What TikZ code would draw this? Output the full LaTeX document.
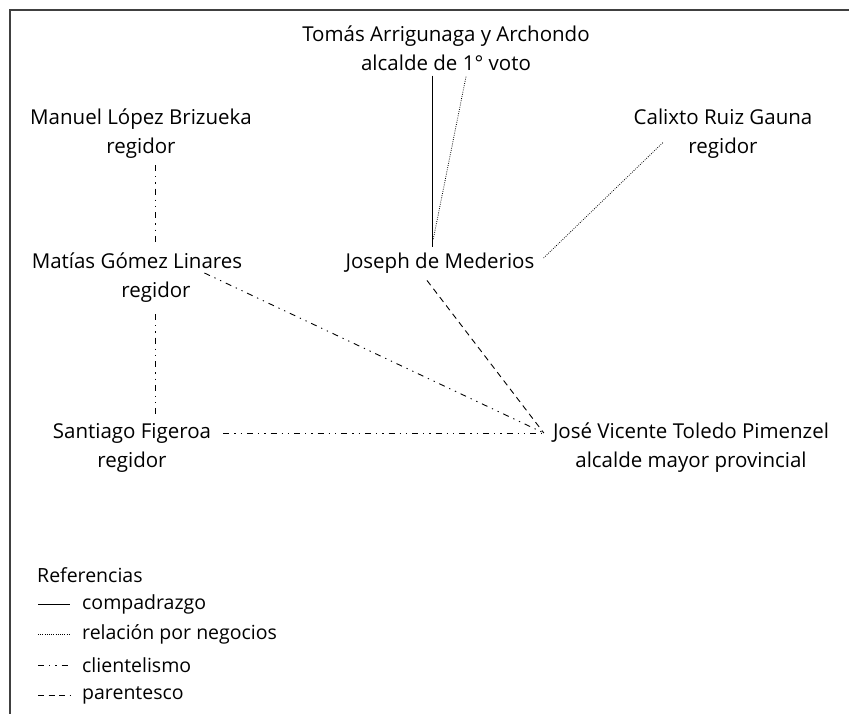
\documentclass[tikz,border=0pt]{standalone}
\usepackage{fontspec}
\setmainfont{Open Sans}
\usetikzlibrary{positioning}

\tikzset{
  persona/.style={align=center, inner sep=0pt, font=\fontsize{20.5}{29}\selectfont},
  leyenda/.style={inner sep=0pt, font=\fontsize{19.5}{29}\selectfont},
  compadrazgo/.style={line width=0.9pt},
  negocios/.style={line width=0.8pt, dash pattern=on 0.8pt off 1.4pt},
  clientelismo/.style={line width=0.9pt, dash pattern=on 6pt off 5pt on 1.3pt off 5pt on 1.3pt off 5pt},
  parentesco/.style={line width=0.9pt, dash pattern=on 6pt off 4.5pt},
}

\begin{document}
\begin{tikzpicture}[x=1pt, y=1pt]
  \useasboundingbox (0,0) rectangle (849,-714);

  % Frame
  \draw[line width=1.5pt, black!75] (849,-10) -- (10,-10) -- (10,-714);

  % People
  \node[persona] (tomas) at (446,-48) {Tomás Arrigunaga y Archondo\\alcalde de 1° voto};
  \node[persona] (manuel) at (141,-134) {Manuel López Brizueka\\regidor};
  \node[persona] (calixto) at (723,-134) {Calixto Ruiz Gauna\\regidor};
  \node[persona] (matias) at (137,-278) {Matías Gómez Linares\\\hspace*{38pt}regidor};
  \node[persona] (joseph) at (440,-263) {Joseph de Mederios};
  \node[persona] (santiago) at (132,-448) {Santiago Figeroa\\regidor};
  \node[persona] (jose) at (691,-448) {José Vicente Toledo Pimenzel\\alcalde mayor provincial};
  \coordinate (joseIn) at ([xshift=-9pt,yshift=15pt]jose.west);

  % Relations
  \draw[compadrazgo] ([xshift=-14pt,yshift=-5pt]tomas.south) -- ([xshift=-8pt,yshift=6pt]joseph.north);
  \draw[negocios] ([xshift=20pt,yshift=-6pt]tomas.south) -- ([xshift=-7pt,yshift=12pt]joseph.north);
  \draw[negocios] ([xshift=9pt,yshift=5pt]joseph.east) -- ([xshift=30pt,yshift=-8pt]calixto.west);
  \draw[clientelismo] ([xshift=14pt,yshift=-6pt]manuel.south) -- ([xshift=18pt,yshift=9pt]matias.north);
  \draw[clientelismo] ([xshift=18pt,yshift=-11pt]matias.south) -- ([xshift=23pt,yshift=9pt]santiago.north);
  \draw[clientelismo] ([xshift=-38pt,yshift=5pt]matias.east) -- (joseIn);
  \draw[clientelismo] ([xshift=12pt,yshift=15pt]santiago.east) -- (joseIn);
  \draw[parentesco] ([xshift=-13pt,yshift=-7pt]joseph.south) -- (joseIn);

  % Legend
  \node[leyenda, anchor=west] (ref) at (37,-575) {Referencias};
  \foreach \txt/\rel [count=\k] in {compadrazgo/compadrazgo, relación por negocios/negocios, clientelismo/clientelismo, parentesco/parentesco}{
    \node[leyenda, anchor=west] (ref\k) at (82,{-604-30.5*(\k-1)}) {\txt};
    \draw[\rel] ([xshift=-44pt]ref\k.west) -- ([xshift=-12pt]ref\k.west);
  }
\end{tikzpicture}
\end{document}
